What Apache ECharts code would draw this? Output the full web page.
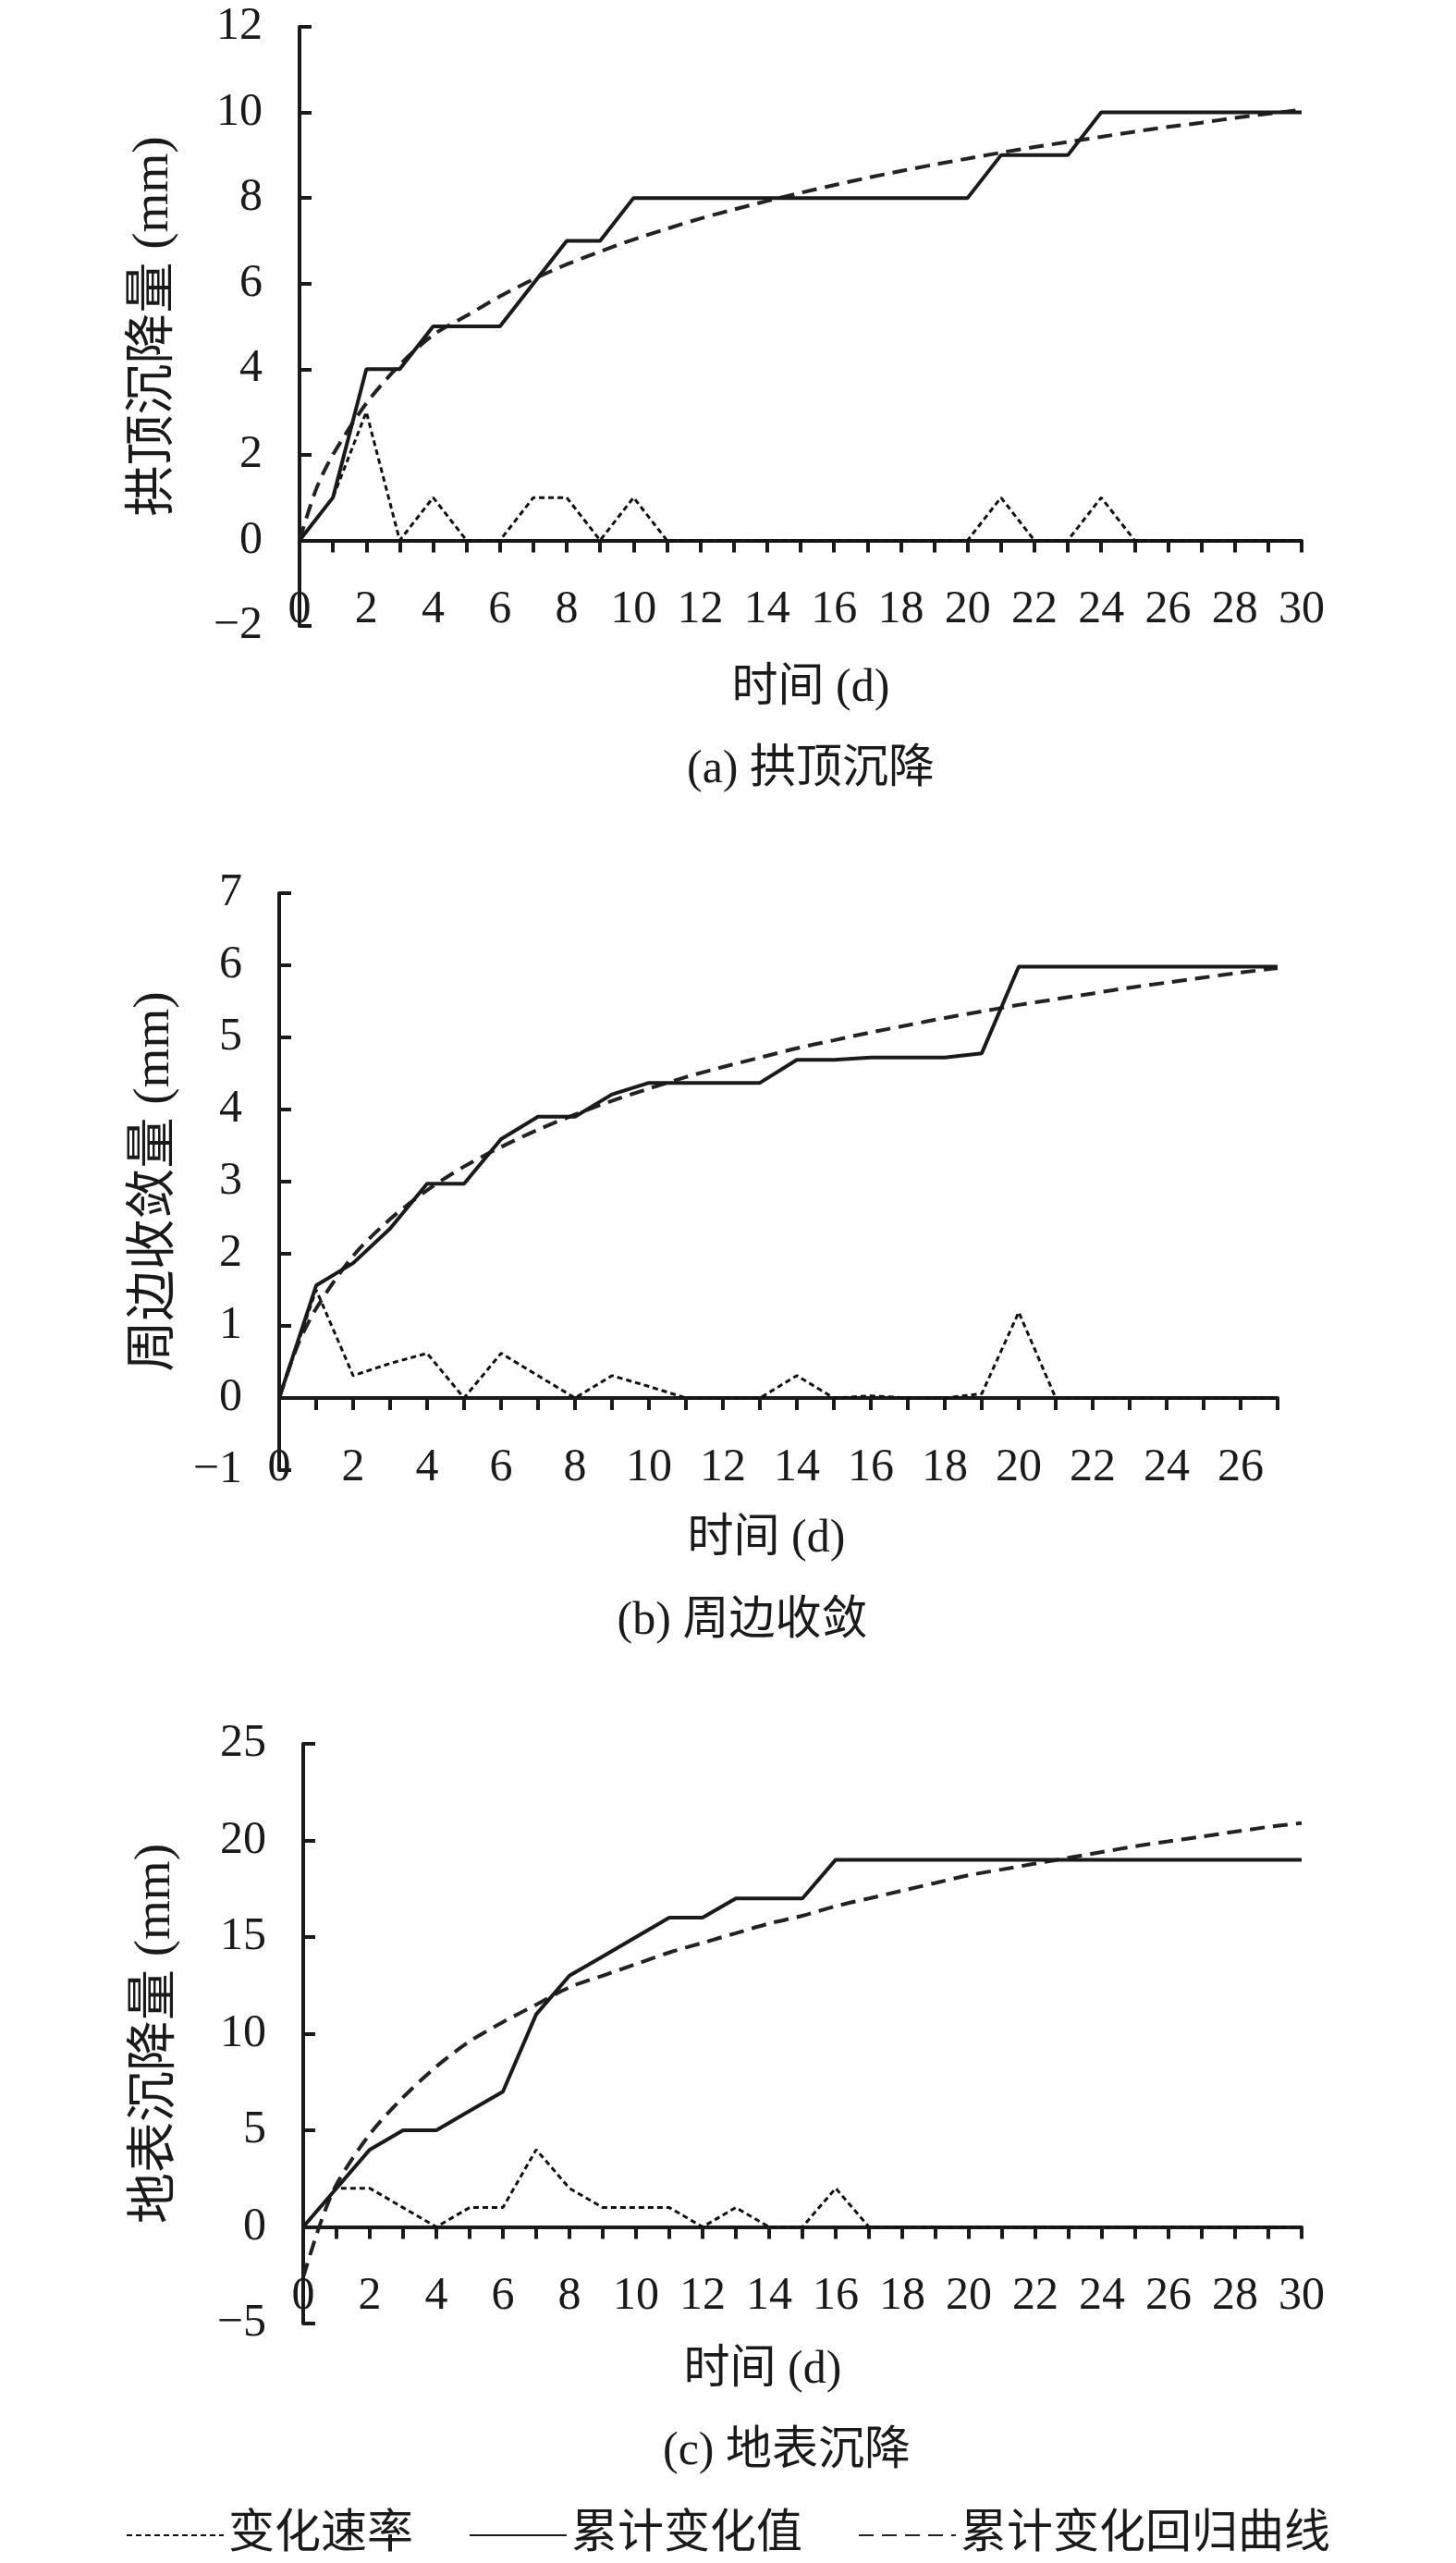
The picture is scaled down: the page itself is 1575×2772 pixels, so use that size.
<!DOCTYPE html>
<html>
<head>
<meta charset="utf-8">
<title>拱顶沉降 / 周边收敛 / 地表沉降</title>
<script src="https://cdn.jsdelivr.net/npm/echarts@6.0.0/dist/echarts.min.js"></script>
<style>
  html, body { margin: 0; padding: 0; background: #fff; }
  .settle-chart { width: 1575px; height: 2772px; }
</style>
</head>
<body>
<div class="settle-chart"></div>
<script>
// ---- 数据 ----
// (a) 拱顶沉降
let daysA = [0, 1, 2, 3, 4, 5, 6, 7, 8, 9, 10, 11, 12, 13, 14, 15, 16, 17, 18, 19, 20, 21, 22, 23, 24, 25, 26, 27, 28, 29, 30];
let cumA = [0, 1, 4, 4, 5, 5, 5, 6, 7, 7, 8, 8, 8, 8, 8, 8, 8, 8, 8, 8, 8, 9, 9, 9, 10, 10, 10, 10, 10, 10, 10];
let rateA = [0, 1, 3, 0, 1, 0, 0, 1, 1, 0, 1, 0, 0, 0, 0, 0, 0, 0, 0, 0, 0, 1, 0, 0, 1, 0, 0, 0, 0, 0, 0];
let fitDaysA = [0, 0.5, 1, 2, 3, 4, 5, 6, 7, 8, 9, 10, 11, 12, 13, 14, 15, 16, 17, 18, 19, 20, 21, 22, 23, 24, 25, 26, 27, 28, 29, 30];
let fitA = [0, 1.2, 2.0, 3.2, 4.1, 4.8, 5.25, 5.7, 6.1, 6.45, 6.75, 7.03, 7.28, 7.52, 7.73, 7.93, 8.12, 8.3, 8.47, 8.63, 8.78, 8.92, 9.06, 9.19, 9.31, 9.43, 9.55, 9.66, 9.76, 9.87, 9.97, 10.06];

// (b) 周边收敛
let daysB = [0, 1, 2, 3, 4, 5, 6, 7, 8, 9, 10, 11, 12, 13, 14, 15, 16, 17, 18, 19, 20, 21, 22, 23, 24, 25, 26, 27];
let cumB = [0, 1.56, 1.87, 2.35, 2.97, 2.97, 3.59, 3.9, 3.9, 4.21, 4.37, 4.37, 4.37, 4.37, 4.69, 4.69, 4.72, 4.72, 4.72, 4.78, 5.98, 5.98, 5.98, 5.98, 5.98, 5.98, 5.98, 5.98];
let rateB = [0, 1.5, 0.31, 0.48, 0.62, 0, 0.62, 0.31, 0, 0.31, 0.16, 0, 0, 0, 0.31, 0, 0.03, 0, 0, 0.06, 1.19, 0, 0, 0, 0, 0, 0, 0];
let fitDaysB = [0, 0.5, 1, 2, 3, 4, 5, 6, 7, 8, 9, 10, 11, 12, 13, 14, 15, 16, 17, 18, 19, 20, 21, 22, 23, 24, 25, 26, 27];
let fitB = [0, 0.73, 1.24, 1.97, 2.48, 2.88, 3.21, 3.48, 3.72, 3.93, 4.12, 4.29, 4.45, 4.59, 4.72, 4.85, 4.96, 5.07, 5.17, 5.27, 5.36, 5.45, 5.53, 5.61, 5.69, 5.76, 5.83, 5.9, 5.96];

// (c) 地表沉降
let daysC = [0, 1, 2, 3, 4, 5, 6, 7, 8, 9, 10, 11, 12, 13, 14, 15, 16, 17, 18, 19, 20, 21, 22, 23, 24, 25, 26, 27, 28, 29, 30];
let cumC = [0, 2, 4, 5, 5, 6, 7, 11, 13, 14, 15, 16, 16, 17, 17, 17, 19, 19, 19, 19, 19, 19, 19, 19, 19, 19, 19, 19, 19, 19, 19];
let rateC = [0, 2, 2, 1, 0, 1, 1, 4, 2, 1, 1, 1, 0, 1, 0, 0, 2, 0, 0, 0, 0, 0, 0, 0, 0, 0, 0, 0, 0, 0, 0];
let fitDaysC = [0, 0.5, 1, 2, 3, 4, 5, 6, 7, 8, 9, 10, 11, 12, 13, 14, 15, 16, 17, 18, 19, 20, 21, 22, 23, 24, 25, 26, 27, 28, 29, 30];
let fitC = [-2.6, 0.1, 2.2, 4.8, 6.7, 8.3, 9.6, 10.6, 11.5, 12.4, 13.0, 13.6, 14.2, 14.7, 15.2, 15.7, 16.1, 16.6, 17.0, 17.4, 17.8, 18.2, 18.5, 18.8, 19.1, 19.4, 19.7, 19.95, 20.2, 20.45, 20.7, 20.9];

let nameRate = '变化速率';
let nameCum = '累计变化值';
let nameFit = '累计变化回归曲线';

(function () {

  // 1. 实例化对象
  let myChart = echarts.init(document.querySelector(".settle-chart"));

  let font = "'Liberation Serif', 'Noto Sans CJK SC', serif";
  let ink = '#1a1a1a';

  function pairs(xs, ys) {
    return xs.map((x, i) => [x, ys[i]]);
  }

  // 标签画在网格底边,用负的 margin 把它拉回到零线下方
  function xAxisOf(grid, max, margin) {
    return {
      gridIndex: grid,
      type: 'value',
      min: 0,
      max: max,
      interval: 1,
      axisLine: { onZero: true, lineStyle: { color: ink, width: 4 } },
      axisTick: { length: 13, lineStyle: { color: ink, width: 4 } },
      axisLabel: {
        margin: margin,
        fontSize: 50,
        fontFamily: font,
        color: ink,
        formatter: v => (v % 2 === 0 ? String(v) : '')
      },
      splitLine: { show: false }
    };
  }

  function yAxisOf(grid, min, max, step, name, gap) {
    return {
      gridIndex: grid,
      type: 'value',
      min: min,
      max: max,
      interval: step,
      name: name,
      nameLocation: 'middle',
      nameRotate: 90,
      nameGap: gap,
      nameTextStyle: { fontSize: 55, fontFamily: font, color: ink },
      axisLine: { show: true, lineStyle: { color: ink, width: 4 } },
      axisTick: { show: true, inside: true, length: 13, lineStyle: { color: ink, width: 4 } },
      axisLabel: {
        margin: 40,
        fontSize: 50,
        fontFamily: font,
        color: ink,
        formatter: v => String(v).replace('-', '\u2212')
      },
      splitLine: { show: false }
    };
  }

  function seriesOf(grid, days, rate, cum, fitDays, fit) {
    return [
      {
        name: nameRate, type: 'line', xAxisIndex: grid, yAxisIndex: grid,
        data: pairs(days, rate), symbol: 'none', z: 3,
        itemStyle: { color: '#111' },
        lineStyle: { color: '#111', width: 3, type: [6, 4] }
      },
      {
        name: nameFit, type: 'line', xAxisIndex: grid, yAxisIndex: grid,
        data: pairs(fitDays, fit), symbol: 'none', smooth: 0.3, z: 4,
        itemStyle: { color: '#222' },
        lineStyle: { color: '#222', width: 4, type: [16, 9] }
      },
      {
        name: nameCum, type: 'line', xAxisIndex: grid, yAxisIndex: grid,
        data: pairs(days, cum), symbol: 'none', z: 5,
        itemStyle: { color: ink },
        lineStyle: { color: ink, width: 4 }
      }
    ];
  }

  function label(x, y, text) {
    return {
      type: 'text', x: x, y: y,
      style: { text: text, fontSize: 50, fontFamily: font, fill: ink, align: 'center', verticalAlign: 'middle' }
    };
  }

  // 2. 指定配置和数据
  let option = {
    backgroundColor: '#fff',
    animation: false,
    grid: [
      { left: 324, top: 29, width: 1084, height: 648 },
      { left: 302, top: 966, width: 1080, height: 624 },
      { left: 328, top: 1886, width: 1080, height: 627 }
    ],
    xAxis: [xAxisOf(0, 30, -42), xAxisOf(1, 27, -27), xAxisOf(2, 30, -54)],
    yAxis: [
      yAxisOf(0, -2, 12, 2, '拱顶沉降量 (mm)', 130),
      yAxisOf(1, -1, 7, 1, '周边收敛量 (mm)', 107),
      yAxisOf(2, -5, 25, 5, '地表沉降量 (mm)', 132)
    ],
    legend: {
      data: [nameRate, nameCum, nameFit],
      left: 'center',
      top: 2712,
      itemWidth: 105,
      itemHeight: 30,
      itemGap: 60,
      itemStyle: { opacity: 0 },
      textStyle: { fontSize: 50, fontFamily: font, color: ink }
    },
    graphic: [
      label(877, 745, '时间 (d)'),
      label(877, 833, '(a) 拱顶沉降'),
      label(829, 1665, '时间 (d)'),
      label(803, 1754, '(b) 周边收敛'),
      label(825, 2564, '时间 (d)'),
      label(851, 2652, '(c) 地表沉降')
    ],
    series: [].concat(
      seriesOf(0, daysA, rateA, cumA, fitDaysA, fitA),
      seriesOf(1, daysB, rateB, cumB, fitDaysB, fitB),
      seriesOf(2, daysC, rateC, cumC, fitDaysC, fitC)
    )
  };

  // 3. 把配置给实例对象
  myChart.setOption(option);
  // 4. 让图表跟随屏幕自动的去适应
  window.addEventListener("resize", function () {
    myChart.resize();
  });

})();
</script>
</body>
</html>
